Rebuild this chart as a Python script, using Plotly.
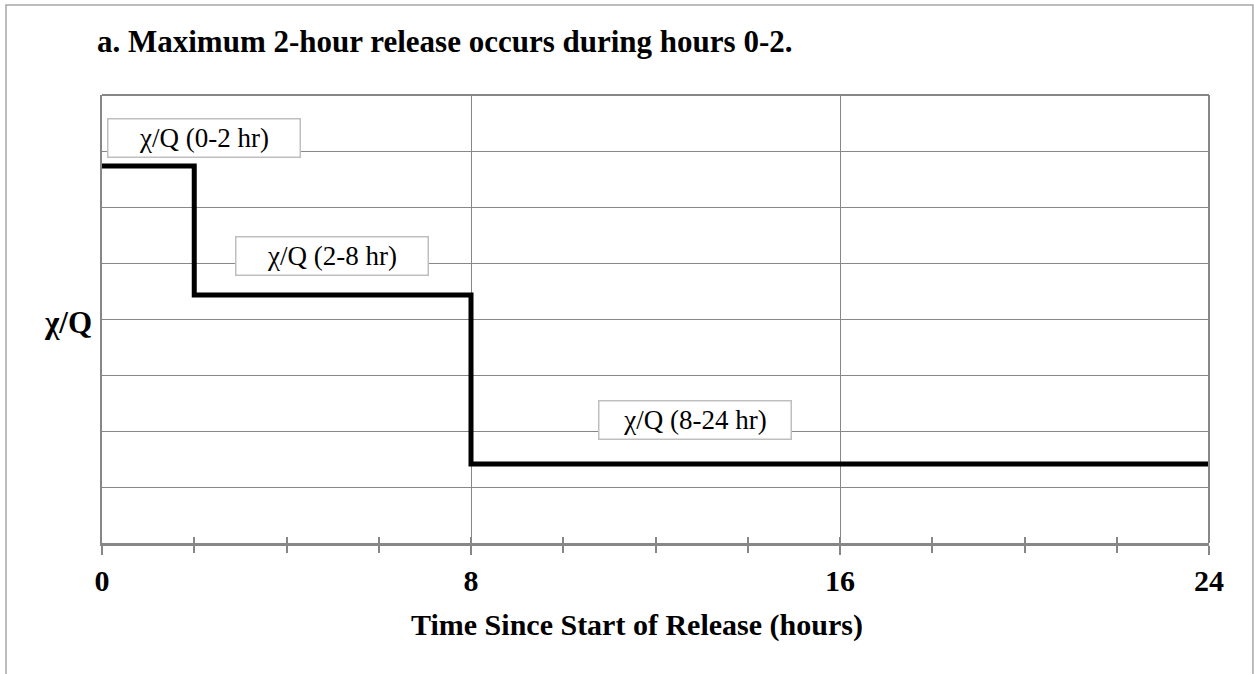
import plotly.graph_objects as go

# Data
step_x = [0, 2, 8, 24]
step_y = [6.73, 4.43, 1.41, 1.41]
label_text = ["χ/Q (0-2 hr)", "χ/Q (2-8 hr)", "χ/Q (8-24 hr)"]
label_x = [2.21, 4.99, 12.85]
label_y = [7.23, 5.12, 2.2]
x_tickvals = [0, 8, 16, 24]
x_ticktext = ["<b>0</b>", "<b>8</b>", "<b>16</b>", "<b>24</b>"]

FONT = "Times New Roman, Liberation Serif, serif"
GRAY = "#878787"

fig = go.Figure()
fig.add_trace(go.Scatter(x=step_x, y=step_y, mode="lines", line=dict(color="black", width=5, shape="hv"),
                         hoverinfo="skip", showlegend=False))
# overlay axis for crossing minor ticks
fig.add_trace(go.Scatter(x=[0], y=[0], xaxis="x2", mode="markers", marker=dict(opacity=0),
                         hoverinfo="skip", showlegend=False))

for t, xx, yy in zip(label_text, label_x, label_y):
    fig.add_annotation(x=xx, y=yy, xref="x", yref="y", text=t, showarrow=False,
                       font=dict(family=FONT, size=27, color="black"),
                       bgcolor="white", bordercolor="#bfbfbf", borderwidth=1.5, borderpad=0,
                       width=191, height=37)

fig.add_annotation(x=(68 - 102) / 1107, y=(543 - 322) / 448, xref="paper", yref="paper", text="<b>χ/Q</b>",
                   showarrow=False, font=dict(family=FONT, size=31, color="black"),
                   xanchor="center", yanchor="middle")

# x-axis title (placed slightly left of centre as in the original)
fig.add_annotation(x=(637 - 102) / 1107, y=(543 - 625) / 448, xref="paper", yref="paper",
                   text="<b>Time Since Start of Release (hours)</b>", showarrow=False,
                   font=dict(family=FONT, size=30, color="black"), xanchor="center", yanchor="middle")

# outer frame
fig.add_shape(type="rect", xref="paper", yref="paper", x0=-0.0867, x1=1.0397, y0=-0.5, y1=1.2009,
              line=dict(color="#a6a6a6", width=1.5), layer="below")

fig.update_layout(
    width=1254, height=674,
    margin=dict(l=102, r=45, t=95, b=131),
    paper_bgcolor="white", plot_bgcolor="white",
    title=dict(text="<b>a. Maximum 2-hour release occurs during hours 0-2.</b>", xref="container", yref="container",
               x=97 / 1254, y=1 - 41 / 674, xanchor="left", yanchor="middle",
               font=dict(family=FONT, size=31, color="black")),
    xaxis=dict(range=[0, 24], tickvals=x_tickvals, ticktext=x_ticktext, ticks="outside", ticklen=9,
               tickwidth=2, tickcolor=GRAY, showgrid=True, gridcolor=GRAY, gridwidth=1.2,
               showline=True, linecolor=GRAY, linewidth=2.5, mirror=False, zeroline=False,
               tickfont=dict(family=FONT, size=30, color="black"),
               minor=dict(dtick=2, tick0=0, ticks="outside", ticklen=7, tickwidth=1.5, tickcolor=GRAY, showgrid=False)),
    xaxis2=dict(range=[0, 24], overlaying="x", anchor="y", side="bottom", dtick=2, tick0=0, ticks="inside",
                ticklen=6, tickwidth=1.5, tickcolor=GRAY, showticklabels=False, showgrid=False,
                zeroline=False, showline=False),
    yaxis=dict(range=[0, 8], dtick=1, showticklabels=False, ticks="", showgrid=True, gridcolor=GRAY,
               gridwidth=1.2, showline=True, linecolor=GRAY, linewidth=1.5, zeroline=False),
)
# top and right frame lines of plot area
fig.add_shape(type="line", xref="paper", yref="paper", x0=0, x1=1, y0=1, y1=1, line=dict(color=GRAY, width=2))
fig.add_shape(type="line", xref="paper", yref="paper", x0=1, x1=1, y0=0, y1=1, line=dict(color=GRAY, width=2))

fig.write_html("out.html", config={"displayModeBar": False},
               post_script="document.body.style.margin='0';document.body.style.overflow='hidden';")
